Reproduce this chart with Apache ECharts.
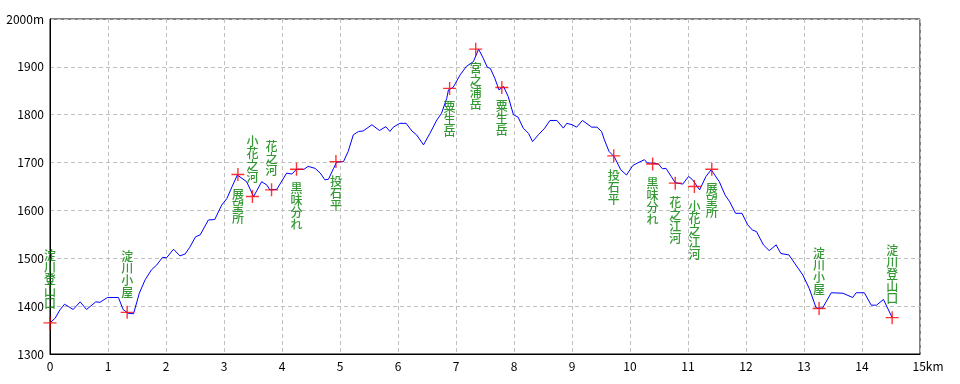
<!DOCTYPE html>
<html><head><meta charset="utf-8">
<script src="https://cdn.jsdelivr.net/npm/echarts@6/dist/echarts.min.js"></script>
<style>html,body{margin:0;padding:0;background:#fff}#c{width:960px;height:384px}</style>
</head><body><div id="c"></div>
<script>
const profileDist = [0,0.09,0.17,0.25,0.32,0.40,0.52,0.63,0.79,0.86,0.99,1.18,1.26,1.35,1.44,1.54,1.64,1.75,1.84,1.94,2.01,2.13,2.24,2.33,2.41,2.51,2.59,2.73,2.84,2.96,3.05,3.14,3.23,3.39,3.51,3.65,3.74,3.79,3.91,4.08,4.17,4.25,4.38,4.45,4.57,4.66,4.74,4.80,4.89,4.94,5.06,5.14,5.23,5.32,5.40,5.55,5.68,5.79,5.86,5.92,6.03,6.14,6.24,6.32,6.44,6.55,6.67,6.75,6.84,6.87,6.95,7.07,7.18,7.30,7.39,7.47,7.54,7.59,7.67,7.74,7.82,7.90,7.99,8.07,8.16,8.25,8.32,8.42,8.53,8.62,8.74,8.85,8.91,9.00,9.08,9.18,9.34,9.43,9.51,9.56,9.64,9.73,9.84,9.94,10.05,10.16,10.25,10.30,10.39,10.49,10.56,10.62,10.71,10.78,10.91,11.01,11.08,11.20,11.31,11.40,11.54,11.64,11.72,11.82,11.93,12.03,12.11,12.18,12.30,12.40,12.52,12.60,12.74,12.86,12.98,13.09,13.21,13.32,13.47,13.67,13.84,13.90,14.04,14.16,14.25,14.37,14.52];
const profileElev = [1365,1375,1392,1404,1399,1393,1409,1393,1409,1408,1418,1418,1393,1385,1384,1427,1455,1476,1486,1502,1501,1519,1505,1509,1523,1545,1549,1580,1581,1611,1625,1650,1674,1660,1629,1660,1653,1643,1644,1678,1676,1686,1686,1692,1688,1678,1664,1665,1688,1701,1702,1723,1758,1765,1766,1779,1767,1775,1765,1774,1782,1782,1766,1758,1737,1761,1789,1803,1834,1852,1857,1883,1901,1911,1937,1918,1899,1897,1876,1852,1859,1838,1800,1795,1772,1761,1744,1758,1772,1788,1788,1772,1782,1779,1774,1788,1774,1774,1765,1747,1723,1712,1685,1674,1694,1701,1706,1699,1699,1697,1687,1688,1671,1658,1655,1671,1664,1643,1671,1685,1660,1632,1618,1594,1594,1570,1559,1556,1528,1516,1528,1510,1507,1486,1465,1437,1396,1396,1428,1427,1418,1428,1428,1402,1402,1414,1376];

const wpNames = ['淀川登山口','淀川小屋','展望所','小花之河','花之河','黒味分れ','投石平','粟生岳','宮之浦岳','粟生岳','投石平','黒味分れ','花之江河','小花之江河','展望所','淀川小屋','淀川登山口'];
const wpDist  = [0,1.33,3.24,3.49,3.82,4.25,4.93,6.89,7.34,7.79,9.72,10.39,10.78,11.11,11.41,13.26,14.52];
const wpElev  = [1365,1387,1675,1629,1643,1686,1702,1855,1937,1857,1714,1697,1657,1650,1686,1395,1376];
const wpSide  = ['top','top','bottom','top','top','bottom','bottom','bottom','bottom','bottom','bottom','bottom','bottom','bottom','bottom','top','top'];

const xTicks = ['0','1','2','3','4','5','6','7','8','9','10','11','12','13','14','15km'];
const yTicks = ['1300','1400','1500','1600','1700','1800','1900','2000m'];

const font = '"Noto Sans CJK JP", sans-serif';
const chart = echarts.init(document.getElementById('c'), null, {renderer:'canvas'});
chart.setOption({
  animation: false,
  backgroundColor: '#fff',
  grid: {left: 50, right: 40, top: 19, bottom: 30, show: true, borderColor: '#000', borderWidth: 1, backgroundColor: '#fff'},
  xAxis: {
    type: 'value', min: 0, max: 15, interval: 1,
    axisLine: {show: true, lineStyle: {color: '#000', width: 1}},
    axisTick: {show: false},
    axisLabel: {
      color: '#000', fontFamily: font, fontSize: 12, margin: 6,
      formatter: v => { const s = xTicks[Math.round(v)]; return v === 15 ? '{k|' + s + '}' : s; },
      rich: {k: {color: '#000', fontFamily: font, fontSize: 12, padding: [0,0,0,16]}}
    },
    splitLine: {show: true, lineStyle: {color: '#c0c0c0', type: [4,3], width: 1}}
  },
  yAxis: {
    type: 'value', min: 1300, max: 2000, interval: 100,
    axisLine: {show: true, lineStyle: {color: '#000', width: 1}},
    axisTick: {show: false},
    axisLabel: {color: '#000', fontFamily: font, fontSize: 12, margin: 6,
      formatter: v => yTicks[Math.round((v - 1300) / 100)]},
    splitLine: {show: true, lineStyle: {color: '#c0c0c0', type: [4,3], width: 1}}
  },
  series: [
    {
      type: 'line', data: profileDist.map((d, i) => [d, profileElev[i]]),
      symbol: 'none', lineStyle: {color: '#0000ff', width: 1}, z: 2
    },
    {
      type: 'scatter', z: 3,
      symbol: 'path://M0,5.8h13v1.4h-13z M5.8,0h1.4v13h-1.4z', symbolSize: 13,
      itemStyle: {color: '#ff0000'},
      data: wpNames.map((n, i) => ({
        value: [wpDist[i], wpElev[i]],
        label: {
          show: true, position: wpSide[i], distance: 7,
          formatter: n.split('').join('\n'),
          color: '#008000', fontFamily: font, fontSize: 12, fontWeight: 500, lineHeight: 12
        }
      }))
    }
  ]
});
</script></body></html>
